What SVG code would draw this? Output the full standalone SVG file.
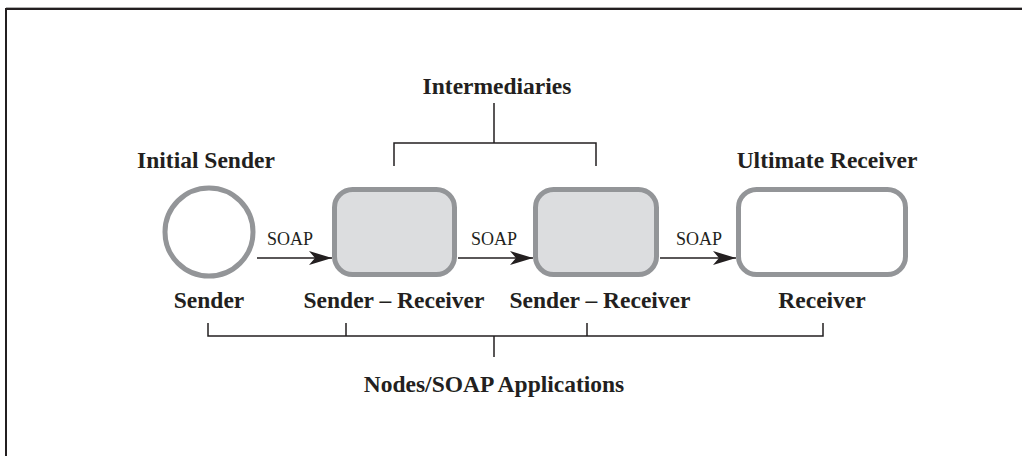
<svg xmlns="http://www.w3.org/2000/svg" width="1022" height="456" viewBox="0 0 1022 456">
<style>
.lbl{font-family:"Liberation Serif","Times New Roman",serif;font-weight:bold;font-size:23.5px;fill:#231f20;text-anchor:middle}
.soap{font-family:"Liberation Serif","Times New Roman",serif;font-size:18px;fill:#231f20;text-anchor:middle}
.node{stroke:#939598;stroke-width:5}
.ln{fill:none;stroke:#231f20;stroke-width:1.5}
</style>
<defs>
<marker id="ah" markerUnits="userSpaceOnUse" markerWidth="24" markerHeight="16" refX="23" refY="7" orient="auto">
<path d="M0,0 L23,7 L0,14 L6,7 Z" fill="#231f20"/>
</marker>
</defs>
<rect x="0" y="0" width="1022" height="456" fill="#ffffff"/>
<path d="M6,456 V9 H1022" fill="none" stroke="#231f20" stroke-width="2"/>
<path d="M6,7.5 H1022" fill="none" stroke="#b0b0b0" stroke-width="1"/>

<g id="initial-sender">
<circle class="node" cx="209" cy="232" r="44" fill="#ffffff"/>
<text class="lbl" x="206" y="168">Initial Sender</text>
<text class="lbl" x="209" y="308">Sender</text>
</g>
<g id="intermediary-1">
<rect class="node" x="334.5" y="189.5" width="120" height="85" rx="18" fill="#dcdddf"/>
<text class="lbl" x="394" y="308">Sender – Receiver</text>
</g>
<g id="intermediary-2">
<rect class="node" x="535.5" y="189.5" width="121" height="85" rx="18" fill="#dcdddf"/>
<text class="lbl" x="600" y="308">Sender – Receiver</text>
</g>
<g id="ultimate-receiver">
<rect class="node" x="738.5" y="189.5" width="167" height="85" rx="18" fill="#ffffff"/>
<text class="lbl" x="827" y="168">Ultimate Receiver</text>
<text class="lbl" x="822" y="308">Receiver</text>
</g>
<g id="intermediaries-label">
<text class="lbl" x="497" y="94">Intermediaries</text>
</g>
<g id="applications-label">
<text class="lbl" x="494" y="392">Nodes/SOAP Applications</text>
</g>

<g id="connectors">
<line class="ln" x1="257" y1="258" x2="332" y2="258" marker-end="url(#ah)"/>
<line class="ln" x1="458" y1="258" x2="533" y2="258" marker-end="url(#ah)"/>
<line class="ln" x1="660" y1="258" x2="736" y2="258" marker-end="url(#ah)"/>
<text class="soap" x="290" y="245">SOAP</text>
<text class="soap" x="494" y="245">SOAP</text>
<text class="soap" x="699" y="245">SOAP</text>
<path class="ln" d="M494,103 V143 M394,166 V143 H596 V166"/>
<path class="ln" d="M208,323 V336 H823 V323 M346,323 V336 M587,323 V336 M494,336 V357"/>
</g>
</svg>
